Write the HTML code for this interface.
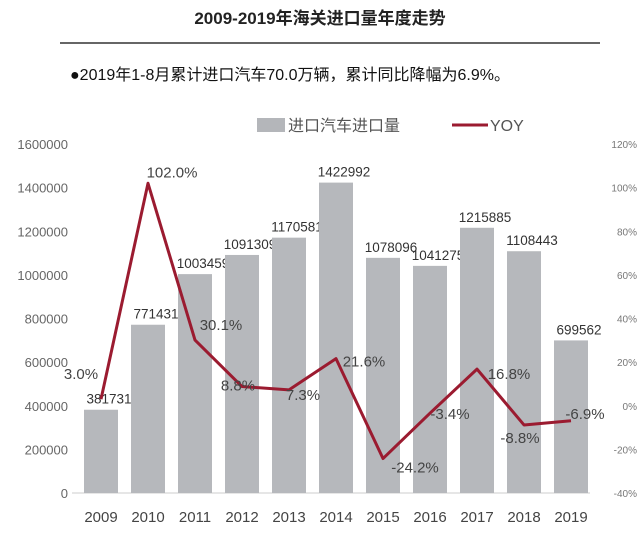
<!DOCTYPE html>
<html><head><meta charset="utf-8"><style>
body{margin:0;background:#fff;width:640px;height:547px;overflow:hidden;font-family:"Liberation Sans","Noto Sans CJK SC",sans-serif}
</style></head><body>
<svg width="640" height="547" xmlns="http://www.w3.org/2000/svg" font-family="Liberation Sans, Noto Sans CJK SC, sans-serif">
<text x="320" y="24" text-anchor="middle" font-size="17" font-weight="bold" fill="#222">2009-2019年海关进口量年度走势</text>
<line x1="60" y1="43" x2="600" y2="43" stroke="#333" stroke-width="1.5"/>
<text x="70" y="80" font-size="16" fill="#111">●2019年1-8月累计进口汽车70.0万辆，累计同比降幅为6.9%。</text>
<rect x="257" y="118" width="28" height="14" fill="#b4b6ba"/>
<text x="288" y="131" font-size="16" fill="#555">进口汽车进口量</text>
<line x1="452" y1="125" x2="488" y2="125" stroke="#9b1b30" stroke-width="3"/>
<text x="490" y="131" font-size="16" fill="#555">YOY</text>
<g id="g"></g>
</svg>
<script>
const years=["2009","2010","2011","2012","2013","2014","2015","2016","2017","2018","2019"];
const volumes=[381731,771431,1003459,1091309,1170581,1422992,1078096,1041275,1215885,1108443,699562];
const yoy=[3.0,102.0,30.1,8.8,7.3,21.6,-24.2,-3.4,16.8,-8.8,-6.9];
const leftTicks=[0,200000,400000,600000,800000,1000000,1200000,1400000,1600000];
const rightTicks=[-40,-20,0,20,40,60,80,100,120];
const NS="http://www.w3.org/2000/svg";
const g=document.getElementById('g');
const x0=101,dx=47,yB=493,yT=144;
const xs=i=>x0+i*dx;
const yL=v=>yB-(v/1600000)*(yB-yT);
const yR=v=>yB-((v+40)/160)*(yB-yT);
function mk(t,a){const e=document.createElementNS(NS,t);for(const k in a)e.setAttribute(k,a[k]);g.appendChild(e);return e;}
leftTicks.forEach(v=>{const t=mk('text',{x:68,y:yL(v)+5,'text-anchor':'end','font-size':13,fill:'#666'});t.textContent=v;

});
rightTicks.forEach(v=>{const t=mk('text',{x:637,y:yR(v)+4,'text-anchor':'end','font-size':10,fill:'#777'});t.textContent=v+'%';

});
mk('line',{x1:72,y1:yB,x2:590,y2:yB,stroke:'#ccc'});
volumes.forEach((v,i)=>{const r=mk('rect',{x:xs(i)-17,y:yL(v),width:34,height:yB-yL(v),fill:'#b6b8bc'});


const t=mk('text',{x:xs(i)+8,y:yL(v)-6,'text-anchor':'middle','font-size':13.5,fill:'#333'});t.textContent=v;


const yl=mk('text',{x:xs(i),y:522,'text-anchor':'middle','font-size':15,fill:'#444'});yl.textContent=years[i];

});
const pl=mk('polyline',{points:yoy.map((v,i)=>xs(i)+','+yR(v)).join(' '),fill:'none',stroke:'#9b1b30','stroke-width':3,'stroke-linejoin':'round'});


const off=[[-20,-20],[24,-6],[26,-10],[-4,4],[14,10],[28,8],[32,14],[20,6],[32,10],[-4,18],[14,-2]];
yoy.forEach((v,i)=>{const t=mk('text',{x:xs(i)+off[i][0],y:yR(v)+off[i][1],'text-anchor':'middle','font-size':15,fill:'#444'});t.textContent=v.toFixed(1)+'%';

});
</script>
</body></html>
